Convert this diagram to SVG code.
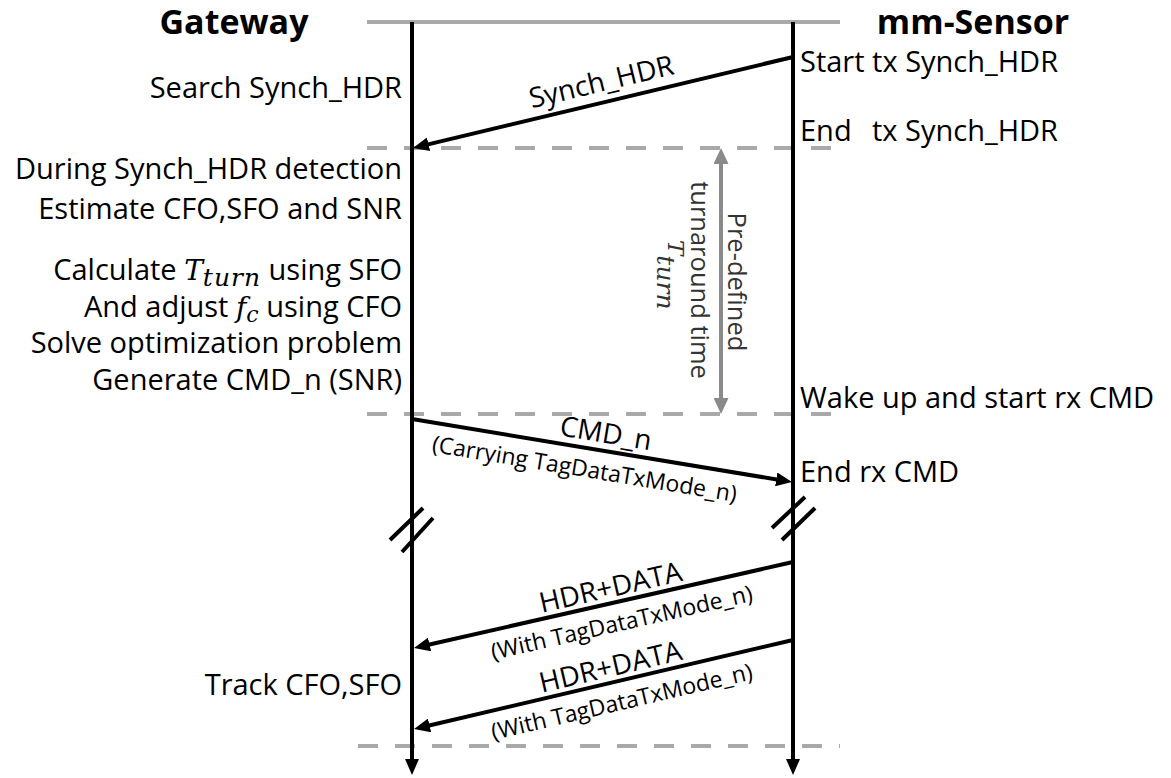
<svg xmlns="http://www.w3.org/2000/svg" width="1171" height="778" viewBox="0 0 1171 778">
  <style>
    .txt { font-family: "Open Sans", "Noto Sans", "Liberation Sans", sans-serif; font-size: 29px; fill: #000; }
    .hdr { font-family: "Open Sans", "Noto Sans", "Liberation Sans", sans-serif; font-size: 34px; font-weight: bold; fill: #000; }
    .lbl { font-family: "Open Sans", "Noto Sans", "Liberation Sans", sans-serif; font-size: 28px; fill: #000; text-anchor: middle; }
    .sub { font-family: "Open Sans", "Noto Sans", "Liberation Sans", sans-serif; font-size: 23px; fill: #000; text-anchor: middle; }
    .vt { font-family: "Open Sans", "Noto Sans", "Liberation Sans", sans-serif; font-size: 25.5px; fill: #333; text-anchor: middle; }
    .math { font-family: "DejaVu Serif", "Liberation Serif", serif; font-style: italic; }
    .life { stroke: #000; stroke-width: 4; fill: none; marker-end: url(#headBlack); }
    .msg { stroke: #000; stroke-width: 4; fill: none; marker-end: url(#headBlack); }
    .brk { stroke: #000; stroke-width: 4; fill: none; }
    .phase { stroke: #a9a9a9; stroke-width: 4; fill: none; stroke-dasharray: 20 17; }
  </style>
  <defs>
    <marker id="headBlack" markerUnits="userSpaceOnUse" markerWidth="16" markerHeight="14" refX="8" refY="7" orient="auto">
      <path d="M0,0 L16,7 L0,14 z" fill="#000"/>
    </marker>
    <marker id="headGray" markerUnits="userSpaceOnUse" markerWidth="16" markerHeight="15" refX="8" refY="7.5" orient="auto-start-reverse">
      <path d="M0,0 L16,7.5 L0,15 z" fill="#8a8a8a"/>
    </marker>
  </defs>

  <rect width="1171" height="778" fill="#fff"/>

  <!-- top rule and phase separators -->
  <g id="phases">
    <line x1="367" y1="22" x2="840" y2="22" stroke="#a9a9a9" stroke-width="4"/>
    <line class="phase" x1="367" y1="148" x2="845" y2="148"/>
    <line class="phase" x1="367" y1="414" x2="845" y2="414"/>
    <line class="phase" x1="358" y1="746" x2="840" y2="746"/>
  </g>

  <!-- Gateway lifeline and its notes -->
  <g id="gateway">
    <text class="hdr" x="234" y="34" text-anchor="middle">Gateway</text>
    <line class="life" x1="412" y1="22" x2="412" y2="767"/>
    <line class="brk" x1="390" y1="540" x2="423" y2="508"/>
    <line class="brk" x1="402" y1="552" x2="433" y2="518"/>
    <g class="txt" text-anchor="end">
      <text x="402" y="98">Search Synch_HDR</text>
      <text x="402" y="179">During Synch_HDR detection</text>
      <text x="402" y="219">Estimate CFO,SFO and SNR</text>
      <text x="402" y="280">Calculate <tspan class="math" font-size="28">T</tspan><tspan class="math" font-size="25" dy="6" letter-spacing="1">turn</tspan><tspan dy="-6"> using SFO</tspan></text>
      <text x="402" y="317">And adjust <tspan class="math" font-size="28">f</tspan><tspan class="math" font-size="22" dy="5">c</tspan><tspan dy="-5"> using CFO</tspan></text>
      <text x="402" y="353">Solve optimization problem</text>
      <text x="402" y="390">Generate CMD_n (SNR)</text>
      <text x="402" y="695">Track CFO,SFO</text>
    </g>
  </g>

  <!-- mm-Sensor lifeline and its notes -->
  <g id="sensor">
    <text class="hdr" x="973" y="34" text-anchor="middle">mm-Sensor</text>
    <line class="life" x1="793" y1="22" x2="793" y2="767"/>
    <line class="brk" x1="772" y1="528" x2="805" y2="497"/>
    <line class="brk" x1="782" y1="540" x2="815" y2="508"/>
    <g class="txt">
      <text x="800" y="72">Start tx Synch_HDR</text>
      <text x="800" y="141">End<tspan x="872">tx Synch_HDR</tspan></text>
      <text x="800" y="408">Wake up and start rx CMD</text>
      <text x="800" y="482">End rx CMD</text>
    </g>
  </g>

  <!-- turnaround interval -->
  <g id="turnaround">
    <line x1="721" y1="156" x2="721" y2="406" stroke="#8a8a8a" stroke-width="4" marker-start="url(#headGray)" marker-end="url(#headGray)"/>
    <text class="vt" transform="translate(728,282) rotate(90)">Pre-defined</text>
    <text class="vt" transform="translate(691,280) rotate(90)">turnaround time</text>
    <text class="math" fill="#333" transform="translate(657,240) rotate(90)"><tspan font-size="23" dy="-11">T</tspan><tspan font-size="25" dy="11">turn</tspan></text>
  </g>

  <!-- messages -->
  <g id="connectors">
    <line class="msg" x1="793" y1="57" x2="420.8" y2="146.1"/>
    <text class="lbl" font-size="29" transform="translate(606,101.8) rotate(-13.47)" y="-11">Synch_HDR</text>

    <line class="msg" x1="412" y1="419" x2="784.1" y2="480.7"/>
    <text class="lbl" transform="translate(603,450.7) rotate(9.41)" y="-8">CMD_n</text>
    <text class="sub" transform="translate(588,448.2) rotate(9.41)" y="29">(Carrying TagDataTxMode_n)</text>

    <line class="msg" x1="793" y1="562" x2="421.8" y2="646.2"/>
    <text class="lbl" transform="translate(614,602.6) rotate(-12.78)" y="-6">HDR+DATA</text>
    <text class="sub" transform="translate(617,602) rotate(-12.78)" y="29">(With TagDataTxMode_n)</text>

    <line class="msg" x1="793" y1="640" x2="421.8" y2="727.2"/>
    <text class="lbl" transform="translate(614,682) rotate(-13.2)" y="-6">HDR+DATA</text>
    <text class="sub" transform="translate(617,681.3) rotate(-13.2)" y="29">(With TagDataTxMode_n)</text>
  </g>
</svg>
